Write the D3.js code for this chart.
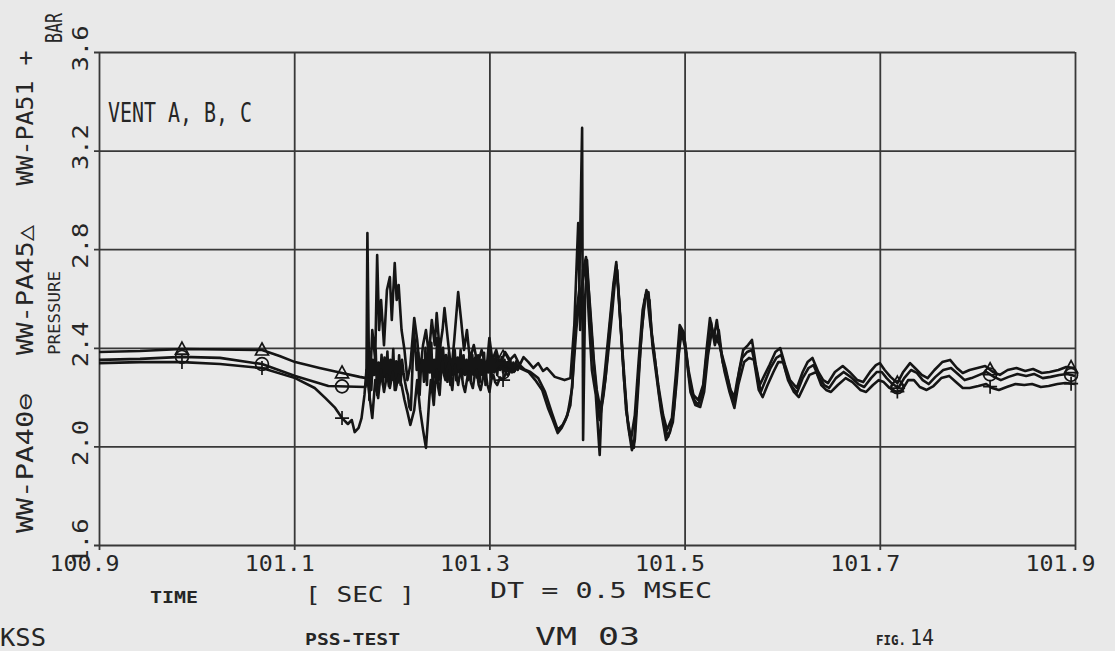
<!DOCTYPE html>
<html>
<head>
<meta charset="utf-8">
<script src="https://cdn.jsdelivr.net/npm/d3@7"></script>
<style>
    html, body { margin: 0; padding: 0; background: #e9e9e9; }
    svg { display: block; }
    text { font-family: "DejaVu Sans Mono", "Liberation Mono", monospace; fill: #262626; }
</style>
</head>
<body>
<div id="chart"></div>
<script>
// ----------------------------
// Data (time in sec, pressure in bar)
// ----------------------------
const timeTicks = [100.9, 101.1, 101.3, 101.5, 101.7, 101.9];
const pressureTicks = [1.6, 2.0, 2.4, 2.8, 3.2, 3.6];
const markerTimes = [100.985, 101.067, 101.149, 101.314, 101.718, 101.813, 101.896];

// WW-PA45 (triangle)
const pa45 = [
    [100.900,2.383],[100.942,2.387],[100.985,2.395],[101.024,2.393],[101.067,2.391],[101.085,2.367],[101.101,2.342],[101.126,2.318],[101.149,2.298],[101.167,2.282],[101.174,2.277],
    [101.175,2.866],[101.177,2.188],[101.180,2.472],[101.183,2.351],[101.185,2.776],[101.187,2.472],[101.189,2.594],[101.192,2.411],[101.195,2.634],[101.198,2.687],[101.200,2.513],[101.203,2.744],[101.205,2.594],[101.207,2.655],[101.210,2.472],[101.213,2.391],[101.216,2.269],[101.219,2.330],[101.223,2.521],[101.226,2.432],[101.229,2.302],[101.232,2.411],[101.235,2.472],[101.238,2.371],[101.241,2.513],[101.244,2.411],[101.246,2.541],[101.249,2.391],[101.252,2.472],[101.254,2.561],[101.258,2.411],[101.261,2.302],[101.264,2.432],[101.268,2.626],[101.271,2.513],[101.274,2.391],[101.277,2.472],[101.280,2.351],[101.284,2.411],[101.288,2.330],[101.292,2.391],[101.297,2.310],[101.300,2.440],[101.303,2.351],[101.307,2.391],[101.311,2.330],[101.316,2.383],[101.321,2.351],[101.326,2.371],[101.331,2.330],[101.335,2.362],[101.340,2.342],[101.345,2.318],[101.350,2.338],[101.355,2.306],[101.359,2.318],[101.367,2.282],[101.377,2.269],[101.383,2.277],
    [101.387,2.492],[101.391,2.906],[101.393,2.472],[101.396,2.716],[101.399,2.768],[101.403,2.574],[101.407,2.351],[101.410,2.229],[101.414,2.148],[101.418,2.290],[101.422,2.452],[101.427,2.655],[101.430,2.748],[101.433,2.574],[101.437,2.351],[101.441,2.127],[101.445,2.026],[101.449,2.127],[101.453,2.351],[101.457,2.553],[101.461,2.634],[101.465,2.492],[101.469,2.371],[101.473,2.249],[101.478,2.127],[101.482,2.067],[101.487,2.115],[101.491,2.290],[101.495,2.492],[101.499,2.464],[101.504,2.310],[101.509,2.209],[101.514,2.188],[101.519,2.249],[101.523,2.411],[101.526,2.521],[101.530,2.440],[101.533,2.513],[101.537,2.391],[101.542,2.318],[101.547,2.229],[101.552,2.196],[101.556,2.310],[101.560,2.391],[101.565,2.411],[101.569,2.432],[101.573,2.330],[101.577,2.249],[101.582,2.290],[101.587,2.330],[101.593,2.383],[101.598,2.399],[101.603,2.330],[101.608,2.269],[101.615,2.237],[101.621,2.302],[101.626,2.342],[101.631,2.359],[101.637,2.302],[101.642,2.269],[101.647,2.257],[101.654,2.302],[101.662,2.326],[101.669,2.302],[101.677,2.269],[101.683,2.261],[101.690,2.302],[101.696,2.330],[101.700,2.338],[101.705,2.310],[101.711,2.282],[101.718,2.257],[101.724,2.302],[101.731,2.338],[101.736,2.318],[101.743,2.290],[101.749,2.277],[101.756,2.310],[101.764,2.342],[101.772,2.351],[101.779,2.318],[101.785,2.298],[101.792,2.310],[101.800,2.318],[101.808,2.326],[101.816,2.302],[101.823,2.290],[101.831,2.310],[101.840,2.318],[101.849,2.306],[101.857,2.314],[101.866,2.298],[101.874,2.302],[101.883,2.310],[101.891,2.322],[101.900,2.318]
];

// WW-PA40 (circle)
const pa40 = [
    [100.900,2.351],[100.942,2.355],[100.985,2.363],[101.024,2.359],[101.067,2.334],[101.101,2.286],[101.135,2.245],[101.173,2.241],
    [101.176,2.310],[101.1775,2.380],[101.179,2.229],[101.1805,2.351],[101.182,2.290],[101.1835,2.392],[101.185,2.209],[101.1865,2.340],[101.188,2.262],[101.1895,2.372],[101.191,2.249],[101.1925,2.360],[101.194,2.280],[101.1955,2.385],[101.197,2.245],[101.1985,2.351],[101.200,2.270],[101.2015,2.395],[101.203,2.229],[101.2045,2.345],[101.206,2.258],[101.2075,2.370],[101.209,2.249],[101.2105,2.351],[101.212,2.300],[101.2135,2.262],[101.215,2.230],[101.2165,2.209],[101.218,2.160],[101.2195,2.148],[101.221,2.300],[101.2225,2.472],[101.224,2.410],[101.2255,2.310],[101.227,2.380],[101.2285,2.209],[101.230,2.330],[101.2315,2.351],[101.233,2.262],[101.2345,2.400],[101.236,2.249],[101.2375,2.391],[101.239,2.300],[101.2405,2.420],[101.242,2.229],[101.2435,2.351],[101.245,2.280],[101.2465,2.440],[101.248,2.269],[101.2495,2.411],[101.251,2.300],[101.2525,2.400],[101.254,2.290],[101.2555,2.371],[101.257,2.262],[101.2585,2.380],[101.260,2.249],[101.2615,2.351],[101.263,2.290],[101.2645,2.391],[101.266,2.269],[101.2675,2.360],[101.269,2.300],[101.2705,2.391],[101.272,2.275],[101.2735,2.370],[101.275,2.290],[101.2765,2.351],[101.278,2.269],[101.2795,2.380],[101.281,2.270],[101.2825,2.371],[101.284,2.290],[101.2855,2.360],[101.287,2.280],[101.2885,2.370],[101.290,2.260],[101.2915,2.351],[101.293,2.290],[101.2945,2.380],[101.296,2.249],[101.2975,2.345],[101.299,2.300],[101.3005,2.400],[101.302,2.280],[101.3035,2.360],[101.305,2.300],[101.3065,2.372],[101.308,2.290],[101.3095,2.351],[101.311,2.310],[101.3125,2.362],[101.314,2.300],[101.3155,2.351],[101.317,2.296],[101.3185,2.342],[101.320,2.302],[101.3215,2.350],[101.323,2.300],[101.3245,2.340],[101.326,2.306],[101.3275,2.345],[101.329,2.310],[101.331,2.330],[101.336,2.312],[101.342,2.302],[101.350,2.277],[101.357,2.221],[101.364,2.136],[101.370,2.067],[101.375,2.087],[101.380,2.127],[101.385,2.241],[101.388,2.501],
    [101.392,2.634],[101.395,3.292],[101.396,2.026],[101.398,2.594],[101.400,2.756],[101.403,2.553],[101.407,2.330],[101.410,2.209],[101.413,2.107],[101.417,2.209],[101.421,2.351],[101.426,2.553],[101.430,2.736],[101.433,2.594],[101.436,2.391],[101.440,2.148],[101.444,2.046],[101.448,1.994],[101.451,2.188],[101.455,2.411],[101.459,2.594],[101.463,2.626],[101.466,2.472],[101.470,2.342],[101.474,2.209],[101.479,2.087],[101.483,2.038],[101.488,2.099],[101.492,2.269],[101.496,2.472],[101.500,2.432],[101.505,2.269],[101.510,2.188],[101.514,2.168],[101.519,2.229],[101.523,2.391],[101.527,2.505],[101.531,2.411],[101.535,2.472],[101.539,2.342],[101.544,2.277],[101.550,2.176],[101.554,2.269],[101.559,2.359],[101.564,2.383],[101.569,2.391],[101.574,2.302],[101.578,2.221],[101.583,2.269],[101.588,2.318],[101.594,2.359],[101.599,2.371],[101.604,2.302],[101.609,2.249],[101.615,2.217],[101.621,2.277],[101.627,2.318],[101.632,2.330],[101.638,2.277],[101.643,2.249],[101.648,2.237],[101.655,2.277],[101.663,2.302],[101.670,2.282],[101.678,2.253],[101.684,2.241],[101.691,2.277],[101.697,2.302],[101.702,2.302],[101.707,2.277],[101.712,2.257],[101.719,2.237],[101.725,2.277],[101.732,2.310],[101.738,2.298],[101.744,2.269],[101.750,2.253],[101.757,2.282],[101.765,2.310],[101.773,2.318],[101.780,2.294],[101.787,2.269],[101.794,2.277],[101.802,2.290],[101.809,2.302],[101.817,2.282],[101.824,2.269],[101.832,2.282],[101.841,2.294],[101.850,2.286],[101.858,2.294],[101.867,2.277],[101.875,2.282],[101.884,2.290],[101.892,2.294],[101.900,2.286]
];

// WW-PA51 (plus)
const pa51 = [
    [100.900,2.338],[100.942,2.342],[100.985,2.342],[101.024,2.334],[101.067,2.318],[101.101,2.277],[101.121,2.237],[101.132,2.196],[101.142,2.156],[101.149,2.115],[101.155,2.091],[101.159,2.107],[101.162,2.058],[101.166,2.075],[101.169,2.115],[101.172,2.209],[101.174,2.310],
    [101.177,2.209],[101.180,2.115],[101.183,2.269],[101.186,2.196],[101.189,2.310],[101.192,2.221],[101.195,2.290],[101.198,2.237],[101.201,2.302],[101.204,2.229],[101.207,2.290],[101.210,2.249],[101.213,2.188],[101.216,2.140],[101.219,2.087],[101.223,2.148],[101.226,2.269],[101.229,2.148],[101.232,2.067],[101.235,1.994],
    [101.237,2.107],[101.2385,2.200],[101.240,2.269],[101.2415,2.220],[101.243,2.168],[101.2445,2.260],[101.246,2.310],[101.2475,2.240],[101.249,2.209],[101.2505,2.300],[101.252,2.351],[101.2535,2.290],[101.255,2.269],[101.257,2.320],[101.259,2.342],[101.2605,2.270],[101.262,2.229],[101.2635,2.300],[101.265,2.330],[101.2665,2.280],[101.268,2.249],[101.2695,2.290],[101.271,2.310],[101.273,2.250],[101.275,2.221],[101.277,2.270],[101.279,2.302],[101.281,2.260],[101.283,2.237],[101.285,2.290],[101.287,2.310],[101.289,2.250],[101.291,2.229],[101.2935,2.280],[101.296,2.302],[101.298,2.250],[101.300,2.221],[101.302,2.270],[101.304,2.290],[101.306,2.260],[101.308,2.249],[101.311,2.280],[101.314,2.269],[101.3165,2.295],[101.319,2.290],[101.322,2.310],[101.325,2.302],[101.328,2.320],[101.331,2.318],
    [101.340,2.302],[101.347,2.269],[101.354,2.229],[101.360,2.156],[101.365,2.107],[101.370,2.054],[101.374,2.075],[101.378,2.107],[101.383,2.168],[101.386,2.310],[101.389,2.472],
    [101.392,2.594],[101.395,2.655],[101.399,2.748],[101.402,2.513],[101.405,2.310],[101.409,2.209],[101.413,1.965],[101.415,2.168],[101.419,2.277],[101.423,2.472],[101.428,2.675],[101.431,2.716],[101.434,2.513],[101.438,2.269],[101.442,2.087],[101.446,1.985],[101.449,2.026],[101.452,2.209],[101.456,2.472],[101.460,2.614],[101.464,2.594],[101.467,2.411],[101.471,2.290],[101.476,2.140],[101.481,2.026],[101.485,2.058],[101.489,2.148],[101.493,2.351],[101.497,2.464],[101.501,2.391],[101.506,2.221],[101.511,2.168],[101.516,2.160],[101.520,2.221],[101.524,2.371],[101.528,2.472],[101.532,2.440],[101.536,2.411],[101.541,2.302],[101.546,2.221],[101.551,2.156],[101.555,2.249],[101.561,2.342],[101.566,2.359],[101.571,2.351],[101.576,2.229],[101.580,2.200],[101.585,2.249],[101.591,2.302],[101.596,2.342],[101.601,2.342],[101.606,2.269],[101.612,2.221],[101.617,2.200],[101.623,2.249],[101.628,2.290],[101.635,2.302],[101.640,2.249],[101.645,2.229],[101.650,2.221],[101.657,2.249],[101.665,2.277],[101.672,2.261],[101.680,2.229],[101.686,2.221],[101.693,2.249],[101.699,2.269],[101.704,2.261],[101.710,2.237],[101.717,2.221],[101.723,2.229],[101.729,2.269],[101.735,2.269],[101.741,2.241],[101.748,2.229],[101.755,2.245],[101.763,2.277],[101.771,2.286],[101.778,2.261],[101.785,2.237],[101.792,2.237],[101.801,2.245],[101.809,2.253],[101.815,2.237],[101.822,2.229],[101.830,2.241],[101.839,2.253],[101.848,2.249],[101.856,2.253],[101.865,2.241],[101.873,2.245],[101.882,2.253],[101.890,2.257],[101.900,2.253]
];


// ----------------------------
// Chart
// ----------------------------
const width = 1115;
const height = 651;
const marginTop = 52;
const marginRight = 40;
const marginBottom = 106;
const marginLeft = 99;

const ink = "#151515";
const gridColor = "#383838";

const x = d3.scaleLinear()
    .domain([100.9, 101.9])
    .range([marginLeft, width - marginRight]);

const y = d3.scaleLinear()
    .domain([1.6, 3.6])
    .range([height - marginBottom, marginTop]);

const plotW = width - marginLeft - marginRight;
const plotH = height - marginTop - marginBottom;

const svg = d3.create("svg")
    .attr("width", width)
    .attr("height", height)
    .attr("viewBox", [0, 0, width, height]);

svg.append("rect")
    .attr("width", width)
    .attr("height", height)
    .attr("fill", "#e9e9e9");

// vertical grid lines (with the small tick below the frame)
svg.append("g")
    .attr("transform", `translate(0,${height - marginBottom})`)
    .call(d3.axisBottom(x).tickValues(timeTicks).tickSize(-plotH).tickFormat(""))
    .call(g => g.select(".domain").remove())
    .call(g => g.selectAll(".tick line")
        .attr("y1", 5)
        .attr("stroke", gridColor)
        .attr("stroke-width", 1.8));

// horizontal grid lines (with the small tick left of the frame)
svg.append("g")
    .attr("transform", `translate(${marginLeft},0)`)
    .call(d3.axisLeft(y).tickValues(pressureTicks).tickSize(-plotW).tickFormat(""))
    .call(g => g.select(".domain").remove())
    .call(g => g.selectAll(".tick line")
        .attr("x1", -5)
        .attr("stroke", gridColor)
        .attr("stroke-width", 1.8));

// time tick labels
svg.append("g")
    .attr("transform", `translate(0,${height - marginBottom})`)
    .call(d3.axisBottom(x).tickValues(timeTicks).tickSize(0).tickFormat(d3.format(".1f")))
    .attr("font-size", null)
    .attr("font-family", null)
    .call(g => g.select(".domain").remove())
    .call(g => g.selectAll(".tick text")
        .attr("y", 26)
        .attr("dy", 0)
        .attr("dx", -15)
        .attr("fill", "#262626")
        .attr("font-size", 22)
        .attr("textLength", 70)
        .attr("lengthAdjust", "spacingAndGlyphs"));

// pressure tick labels, turned on their side
svg.append("g")
    .attr("transform", `translate(${marginLeft},0)`)
    .call(d3.axisLeft(y).tickValues(pressureTicks).tickSize(0).tickFormat(d3.format(".1f")))
    .attr("font-size", null)
    .attr("font-family", null)
    .call(g => g.select(".domain").remove())
    .call(g => g.selectAll(".tick text")
        .attr("x", 0)
        .attr("dy", 0)
        .attr("transform", "translate(-11,-4) rotate(-90)")
        .attr("text-anchor", "middle")
        .attr("fill", "#262626")
        .attr("font-size", 22)
        .attr("textLength", 46)
        .attr("lengthAdjust", "spacingAndGlyphs"));

// the three pressure traces
const line = d3.line()
    .x(d => x(d[0]))
    .y(d => y(d[1]));

const traces = [
    { name: "PA45", data: pa45, symbol: "triangle" },
    { name: "PA40", data: pa40, symbol: "circle" },
    { name: "PA51", data: pa51, symbol: "plus" }
];

svg.append("g")
    .selectAll("path")
    .data(traces)
    .join("path")
        .attr("d", d => line(d.data))
        .attr("fill", "none")
        .attr("stroke", ink)
        .attr("stroke-width", 2.6)
        .attr("stroke-linejoin", "round");

// markers along each trace
const bisect = d3.bisector(d => d[0]).left;
function valueAt(data, t) {
    const i = Math.max(1, Math.min(data.length - 1, bisect(data, t)));
    const a = data[i - 1], b = data[i];
    const k = (t - a[0]) / (b[0] - a[0]);
    return a[1] + (b[1] - a[1]) * k;
}

const symbolPath = {
    triangle: "M0,-7L6.5,5H-6.5Z",
    circle: d3.symbol(d3.symbolCircle, 130)(),
    plus: "M-7,0H7M0,-7V7"
};

traces.forEach(tr => {
    svg.append("g")
        .selectAll("path")
        .data(markerTimes)
        .join("path")
            .attr("transform", t => `translate(${x(t)},${y(valueAt(tr.data, t))})`)
            .attr("d", symbolPath[tr.symbol])
            .attr("fill", "none")
            .attr("stroke", ink)
            .attr("stroke-width", 1.7);
});

// texts
function label(str, x0, y0, size, len, opts = {}) {
    const t = svg.append("text")
        .attr("transform", `translate(${x0},${y0})` + (opts.rotate ? " rotate(-90)" : ""))
        .attr("text-anchor", opts.anchor || "start")
        .attr("font-size", size)
        .attr("textLength", len)
        .attr("lengthAdjust", "spacingAndGlyphs")
        .text(str);
    if (opts.weight) t.attr("font-weight", opts.weight);
    return t;
}

label("WW-PA51 +", 33, 118, 23, 135, { rotate: true, anchor: "middle" });
label("WW-PA45\u25B3", 33, 290, 23, 130, { rotate: true, anchor: "middle" });
label("WW-PA40\u2296", 33, 463, 23, 140, { rotate: true, anchor: "middle" });
label("BAR", 62, 28, 23, 30, { rotate: true, anchor: "middle" });
label("PRESSURE", 60, 313, 15, 84, { rotate: true, anchor: "middle" });

label("VENT A, B, C", 108, 122, 27, 144);

label("TIME", 150, 603, 16, 48, { weight: "bold" });
label("[ SEC ]", 305, 602, 22, 110);
label("DT = 0.5 MSEC", 490, 598, 22, 222);

label("KSS", 0, 646, 24, 46);
label("PSS-TEST", 305, 645, 16, 95, { weight: "bold" });
label("VM 03", 535, 645, 24, 105);
label("FIG.", 876, 645, 14, 30, { weight: "bold" });
label("14", 910, 645, 21, 24);

document.getElementById("chart").appendChild(svg.node());
</script>
</body>
</html>
